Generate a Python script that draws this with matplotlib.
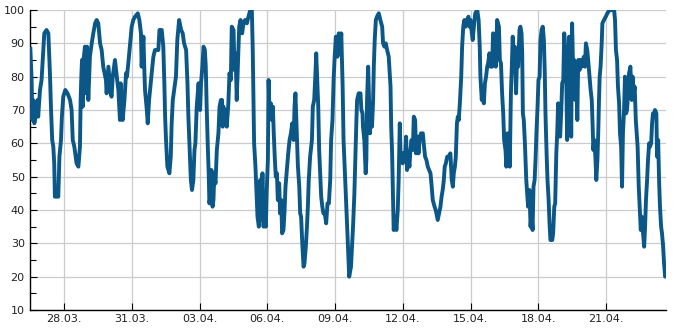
import matplotlib
matplotlib.use("Agg")
import matplotlib.pyplot as plt
import matplotlib.dates as mdates
from matplotlib.ticker import MultipleLocator
import pandas as pd

# time in days since 26.03. 00:00
days = [0.50, 0.56, 0.59, 0.63, 0.68, 0.78, 0.82, 0.85, 0.93, 1.00, 1.05, 1.12, 1.22, 1.30, 1.37, 1.42,
        1.47, 1.52, 1.56, 1.59, 1.74, 1.79, 1.86, 1.90, 1.96, 2.05, 2.15, 2.26, 2.33, 2.38, 2.45, 2.55,
        2.63, 2.70, 2.73, 2.76, 2.79, 2.82, 2.86, 2.92, 2.97, 3.01, 3.07, 3.14, 3.22, 3.29, 3.37, 3.44,
        3.51, 3.59, 3.66, 3.73, 3.85, 3.88, 3.96, 4.06, 4.10, 4.15, 4.25, 4.33, 4.40, 4.47, 4.50, 4.59,
        4.67, 4.74, 4.78, 4.84, 4.92, 4.99, 5.06, 5.14, 5.26, 5.33, 5.40, 5.43, 5.51, 5.55, 5.58, 5.66,
        5.70, 5.76, 5.83, 5.89, 5.95, 6.02, 6.17, 6.22, 6.32, 6.39, 6.44, 6.47, 6.51, 6.57, 6.66, 6.72,
        6.76, 6.81, 6.87, 6.95, 7.01, 7.09,
        7.18, 7.25, 7.31, 7.40, 7.46, 7.50, 7.55, 7.61, 7.66, 7.72, 7.77, 7.81, 7.87, 7.95, 8.02, 8.06,
        8.12, 8.17, 8.23, 8.27, 8.31, 8.36, 8.40, 8.43, 8.49, 8.52, 8.57, 8.61, 8.65, 8.70, 8.76, 8.83,
        8.88, 8.94, 8.99, 9.02, 9.05, 9.10, 9.14, 9.20, 9.27, 9.32, 9.38, 9.42, 9.50, 9.54, 9.59, 9.64,
        9.69, 9.75, 9.81, 9.88, 9.94, 10.01, 10.09, 10.16, 10.24, 10.31, 10.35, 10.38, 10.41, 10.47,
        10.52, 10.56, 10.62, 10.68, 10.72, 10.78, 10.83, 10.87, 10.93, 10.97, 11.02, 11.05, 11.09,
        11.15, 11.20, 11.24, 11.28, 11.33, 11.37, 11.42, 11.46, 11.52, 11.56, 11.61, 11.65, 11.71,
        11.76, 11.80, 11.86, 11.92, 11.98, 12.04, 12.10, 12.16, 12.20, 12.24, 12.30, 12.35, 12.41,
        12.45, 12.49, 12.55, 12.60, 12.64, 12.70, 12.75, 12.79, 12.83, 12.89, 12.97, 13.01, 13.07,
        13.12, 13.16, 13.20, 13.25, 13.29, 13.34, 13.38, 13.43, 13.48, 13.54, 13.60, 13.66, 13.72,
        13.78, 13.82, 13.88, 13.93, 13.97, 14.03, 14.10, 14.16, 14.22, 14.27, 14.33, 14.37, 14.42,
        14.47, 14.52, 14.56, 14.62,
        14.70, 14.75, 14.79, 14.85, 14.89, 14.94, 14.97, 15.04, 15.12, 15.16, 15.21, 15.23, 15.29,
        15.35, 15.38, 15.41, 15.46, 15.50, 15.54, 15.59, 15.63, 15.68, 15.71, 15.75, 15.80, 15.85,
        15.93, 16.00, 16.08, 16.12, 16.18, 16.24, 16.30, 16.37, 16.45, 16.48, 16.52, 16.56, 16.59,
        16.67, 16.71, 16.77, 16.81, 16.86, 16.90, 16.95, 16.99, 17.04, 17.10, 17.14, 17.18, 17.23,
        17.29, 17.33, 17.38, 17.44, 17.48, 17.54, 17.58, 17.63, 17.69, 17.75, 17.80, 17.88, 17.92,
        17.98, 18.04, 18.10, 18.16, 18.22, 18.26, 18.32, 18.40, 18.45, 18.54, 18.60, 18.66, 18.71,
        18.76, 18.81, 18.85, 18.90, 18.96, 19.03, 19.10, 19.16, 19.21, 19.25, 19.30, 19.34, 19.39,
        19.43, 19.47, 19.52, 19.58, 19.62, 19.67, 19.72, 19.78, 19.84, 19.90, 19.95, 19.99, 20.05,
        20.09, 20.14, 20.20, 20.29, 20.35, 20.40, 20.43, 20.49, 20.54, 20.58, 20.63, 20.68, 20.73,
        20.77, 20.83, 20.88, 20.95, 20.99, 21.05, 21.11, 21.17, 21.25, 21.29, 21.34, 21.39, 21.44,
        21.48, 21.54,
        21.58, 21.63, 21.69, 21.73, 21.78, 21.82, 21.86, 21.91, 21.95, 22.01, 22.06, 22.10, 22.16,
        22.20, 22.25, 22.28, 22.31, 22.35, 22.40, 22.46, 22.50, 22.54, 22.60, 22.65, 22.69, 22.74,
        22.78, 22.83, 22.87, 22.91, 22.96, 23.00, 23.05, 23.09, 23.14, 23.19, 23.24, 23.28, 23.31,
        23.36, 23.40, 23.45, 23.49, 23.53, 23.61, 23.65, 23.70, 23.74, 23.79, 23.83, 23.87, 23.92,
        23.96, 24.01, 24.05, 24.10, 24.14, 24.18, 24.23, 24.27, 24.32, 24.36, 24.41, 24.45, 24.49,
        24.54, 24.58, 24.63, 24.67, 24.72, 24.76, 24.82, 24.86, 24.92, 24.97, 25.01, 25.06, 25.10,
        25.16, 25.20, 25.26,
        25.31, 25.36, 25.40, 25.43, 25.47, 25.52, 25.56, 25.61, 25.65, 25.68, 25.71, 25.75, 25.80,
        25.83, 25.90, 25.98, 26.05, 26.15, 26.27, 26.35, 26.39, 26.43, 26.48, 26.52, 26.57, 26.61,
        26.66, 26.70, 26.74, 26.79, 26.83, 26.88, 26.92, 26.97, 27.01, 27.07, 27.13, 27.17, 27.22,
        27.26, 27.31, 27.35, 27.39, 27.44, 27.48, 27.53, 27.57, 27.63, 27.68, 27.72, 27.76, 27.81,
        27.85, 27.90, 27.94, 27.99, 28.03, 28.07, 28.12, 28.16, 28.22, 28.25, 28.30, 28.34, 28.38,
        28.43, 28.47, 28.52, 28.56, 28.61, 28.66]

values = [89, 79, 67, 73, 66, 70, 73, 68, 76, 79, 85, 93, 94, 93, 81, 70,
          61, 59, 54, 44, 44, 56, 61, 68, 74, 76, 75, 73, 70, 61, 59, 54,
          53, 59, 73, 80, 85, 71, 85, 89, 75, 89, 73, 86, 90, 93, 96, 97,
          96, 90, 88, 83, 79, 75, 83, 75, 74, 80, 85, 80, 76, 67, 78, 67,
          73, 81, 80, 84, 90, 95, 97, 98, 99, 97, 93, 83, 92, 82, 76, 70,
          66, 73, 78, 82, 86, 88, 88, 94, 94, 89, 77, 68, 61, 53, 51, 56,
          66, 73, 76, 80, 91, 97,
          94, 93, 90, 88, 78, 68, 59, 49, 46, 49, 58, 60, 71, 78, 70, 78,
          83, 89, 88, 83, 71, 59, 51, 42, 45, 52, 41, 43, 51, 48, 58, 63,
          71, 73, 73, 65, 71, 68, 70, 65, 72, 81, 79, 95, 94, 82, 87, 73,
          83, 95, 97, 93, 96, 97, 96, 98, 100, 100, 88, 73, 60, 53,
          45, 38, 35, 49, 37, 51, 35, 45, 35, 46, 55, 79, 70,
          72, 67, 71, 63, 55, 50, 51, 43, 48, 39, 43, 33, 34,
          40, 47, 52, 57, 61, 63, 66, 61, 71, 75, 63, 53, 47,
          39, 38, 29, 23, 24, 29, 35, 41, 49, 56, 61, 71, 73,
          80, 87, 80, 71, 58, 50, 44, 41, 39, 39, 36, 42, 42,
          49, 61, 67, 79, 85, 92, 86, 93, 87, 93, 77, 61, 53,
          45, 37, 30, 20,
          23, 30, 35, 45, 55, 67, 73, 75, 75, 70, 69, 65, 61,
          51, 55, 73, 83, 73, 63, 71, 65, 73, 83, 91, 97, 98,
          99, 97, 95, 90, 89, 90, 88, 86, 77, 65, 57, 44, 34,
          38, 34, 40, 49, 66, 55, 57, 54, 57, 56, 62, 52, 55,
          53, 58, 61, 58, 68, 67, 57, 62, 57, 62, 63, 63, 60,
          56, 55, 53, 52, 51, 48, 43, 41, 40, 37, 39, 41, 44,
          46, 49, 53, 54, 56, 56, 57, 49, 47, 51, 53, 56, 66,
          68, 67, 72, 80, 89, 95, 97, 95, 97, 98, 95, 97, 93,
          91, 95, 99, 100, 97, 89, 80, 73, 76, 72, 78, 80, 83,
          84, 87, 83, 83, 93, 92, 83, 97, 95, 85, 84, 75, 69,
          61, 58,
          53, 63, 61, 53, 75, 83, 92, 83, 89, 75, 88, 83, 94,
          95, 93, 87, 69, 67, 60, 49, 45, 41, 46, 35, 39, 34,
          47, 49, 55, 63, 71, 79, 80, 91, 94, 95, 91, 81, 69,
          57, 49, 43, 36, 31, 31, 33, 41, 42, 57, 63, 72, 70,
          62, 70, 78, 79, 93, 89, 80, 61, 80, 92, 83, 62, 96,
          80, 85, 73, 82, 67, 85, 82, 85, 83, 85, 86, 83, 90,
          88, 85, 80,
          76, 73, 65, 58, 61, 56, 49, 55, 64, 73, 80, 83, 90,
          96, 97, 98, 99, 100, 100, 100, 97, 88, 85, 77, 72, 63,
          59, 47, 63, 70, 80, 69, 70, 75, 81, 83, 73, 80, 75,
          77, 67, 63, 59, 47, 41, 34, 38, 33, 29, 35, 43, 49,
          55, 60, 59, 60, 66, 69, 68, 70, 69, 56, 61, 49, 41,
          35, 33, 29, 24, 20, 21]

tick_dates = ["2024-03-28", "2024-03-31", "2024-04-03", "2024-04-06", "2024-04-09",
              "2024-04-12", "2024-04-15", "2024-04-18", "2024-04-21"]
y_ticks = [10, 20, 30, 40, 50, 60, 70, 80, 90, 100]

start = pd.Timestamp("2024-03-26")
times = start + pd.to_timedelta(days, unit="D")

fig = plt.figure(figsize=(6.85, 3.3), dpi=100)
ax = fig.add_axes([0.0442, 0.0606, 0.9285, 0.9091])

ax.plot(times, values, color="#0b5888", linewidth=2.8, solid_joinstyle="round",
        solid_capstyle="butt", zorder=3)

ax.set_xlim(times[0], times[-1])
ax.set_ylim(10, 100)
ax.set_yticks(y_ticks)
ax.yaxis.set_minor_locator(MultipleLocator(5))
ax.set_xticks(pd.to_datetime(tick_dates))
ax.xaxis.set_major_formatter(mdates.DateFormatter("%d.%m."))

ax.grid(True, which="major", color="#cccccc", linewidth=0.9, zorder=0)
for s in ["top", "right"]:
    ax.spines[s].set_visible(False)
for s in ["left", "bottom"]:
    ax.spines[s].set_color("#000000")
    ax.spines[s].set_linewidth(1.0)

ax.tick_params(axis="both", which="major", direction="in", length=5, width=0.8,
               labelsize=8, colors="#000000", labelcolor="#222222")
ax.tick_params(axis="y", which="minor", direction="in", length=4, width=0.8, color="#000000")
ax.tick_params(axis="y", pad=4)
ax.tick_params(axis="x", pad=3)

fig.savefig("out.png", dpi=100)
